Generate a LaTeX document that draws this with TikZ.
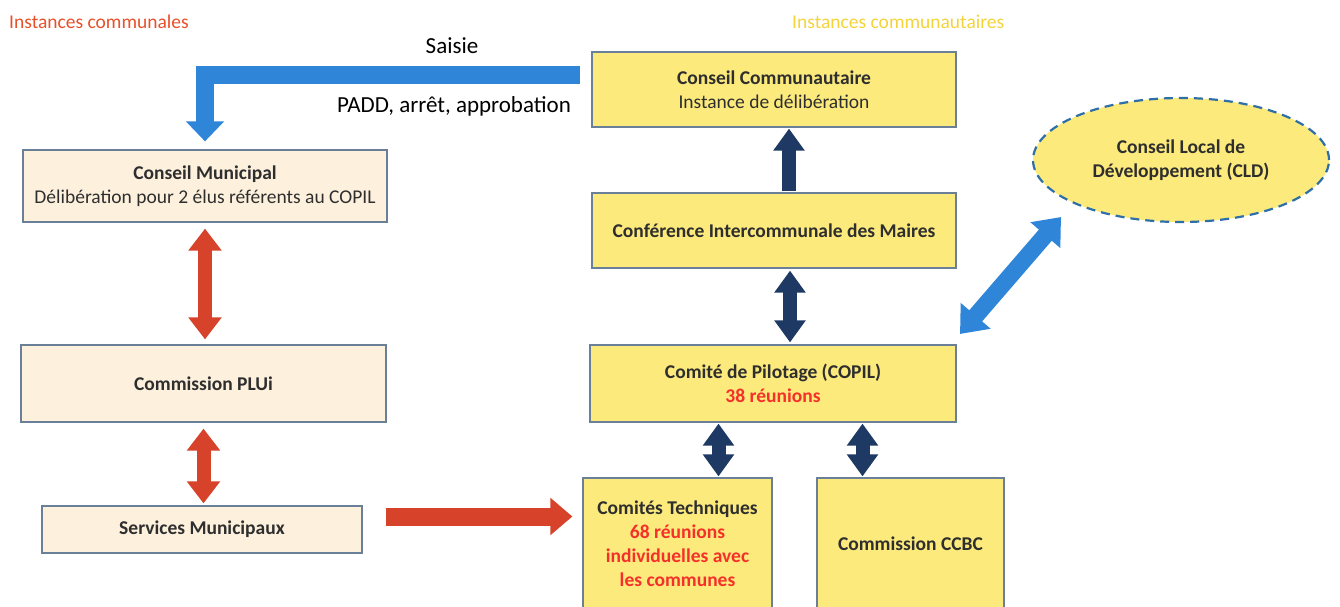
\documentclass[tikz,border=0pt]{standalone}
\usepackage{fontspec}
\setmainfont{Carlito}
\usetikzlibrary{arrows.meta,shapes.geometric}
\definecolor{boxyellow}{HTML}{FCEA7C}
\definecolor{boxpeach}{HTML}{FDF1DE}
\definecolor{boxline}{HTML}{6A8099}
\definecolor{arrowblue}{HTML}{2F86D9}
\definecolor{arrownavy}{HTML}{1E3A64}
\definecolor{arrowred}{HTML}{D7432A}
\definecolor{txtdark}{HTML}{2E2E2E}
\definecolor{txtred}{HTML}{F5302A}
\definecolor{hdrred}{HTML}{E8502A}
\definecolor{hdryellow}{HTML}{F4D43A}
\definecolor{clddash}{HTML}{2F6FA8}
\begin{document}
\begin{tikzpicture}[x=1pt,y=-1pt,
  box/.style={draw=boxline, line width=1.2pt, inner sep=0pt, align=center,
    font=\bfseries\fontsize{19.5}{24}\selectfont, text=txtdark},
  combox/.style={box, fill=boxpeach},
  ccbox/.style={box, fill=boxyellow},
  navyarrow/.style={draw=arrownavy, line width=14pt,
    {Triangle[width=30pt,length=22pt]}-{Triangle[width=30pt,length=22pt]}},
  navyup/.style={draw=arrownavy, line width=14pt, -{Triangle[width=30pt,length=22pt]}},
  redarrow/.style={draw=arrowred, line width=14pt,
    {Triangle[width=32pt,length=22pt]}-{Triangle[width=32pt,length=22pt]}},
  redright/.style={draw=arrowred, line width=18pt, -{Triangle[width=36pt,length=22pt]}},
  bluebent/.style={draw=arrowblue, line width=18pt, line join=miter, -{Triangle[width=37pt,length=20pt]}},
  bluediag/.style={draw=arrowblue, line width=17pt,
    {Triangle[width=38pt,length=24pt]}-{Triangle[width=38pt,length=24pt]}},
  label/.style={inner sep=0pt, text=black, font=\fontsize{23}{26}\selectfont},
  header/.style={anchor=west, inner sep=0pt, font=\fontsize{19.5}{22}\selectfont},
]
\useasboundingbox (0,0) rectangle (1340,607);
\clip (0,0) rectangle (1340,607);
\fill[white] (0,0) rectangle (1340,607);

% headers
\node[header, text=hdrred] (h1) at (9,22) {Instances communales};
\node[header, text=hdryellow] (h2) at (792,22) {Instances communautaires};

% right column (communautaires)
\node[ccbox, minimum width=364, minimum height=75] (cc) at (774,89.5)
  {Conseil Communautaire\\\mdseries Instance de délibération};
\node[ccbox, minimum width=364, minimum height=75] (conf) at (774,230.5)
  {Conférence Intercommunale des Maires};
\node[ccbox, minimum width=366, minimum height=77] (copil) at (773,383.5)
  {Comité de Pilotage (COPIL)\\\textcolor{txtred}{38 réunions}};
\node[ccbox, minimum width=189, minimum height=132] (ct) at (677.5,544)
  {Comités Techniques\\\textcolor{txtred}{68 réunions}\\\textcolor{txtred}{individuelles avec}\\\textcolor{txtred}{les communes}};
\node[ccbox, minimum width=187, minimum height=132] (ccbc) at (910.5,544)
  {Commission CCBC};
\node[ellipse, draw=clddash, dashed, dash pattern=on 9pt off 6pt, line width=2.2pt, fill=boxyellow,
  minimum width=296, minimum height=124, inner sep=0pt, align=center, text=txtdark,
  font=\bfseries\fontsize{19.5}{24}\selectfont] (cld) at (1181,160)
  {Conseil Local de\\Développement (CLD)};

% left column (communales)
\node[combox, minimum width=364, minimum height=72] (cm) at (205,186)
  {Conseil Municipal\\\mdseries Délibération pour 2 élus référents au COPIL};
\node[combox, minimum width=365, minimum height=77] (plui) at (203.5,383.5)
  {Commission PLUi};
\node[combox, minimum width=320, minimum height=47] (serv) at (202,529.5)
  {Services Municipaux};

% labels
\node[label] (saisie) at (452,46) {Saisie};
\node[label] (padd) at (454,106) {PADD, arrêt, approbation};

% connectors
\coordinate (bentstart) at (580,75);
\draw[bluebent, shorten >=8pt] (bentstart) -| (cm.north);

\draw[redarrow, shorten <=6pt, shorten >=5pt] (cm.south) -- (cm.south |- plui.north);
\draw[redarrow, shorten <=6pt, shorten >=2pt] (plui.south) -- (plui.south |- serv.north);
\draw[redright, shorten <=23pt, shorten >=10pt] ([yshift=13]serv.east) -- ([yshift=13]serv.east -| ct.west);

\draw[navyup, shorten <=1pt, shorten >=1pt] ([xshift=15]conf.north) -- ([xshift=15]cc.south);
\draw[navyarrow, shorten <=2pt, shorten >=2pt] ([xshift=16]conf.south) -- ([xshift=16]conf.south |- copil.north);
\draw[navyarrow, shorten <=1pt, shorten >=1pt] ([xshift=41]ct.north |- copil.south) -- ([xshift=41]ct.north);
\draw[navyarrow, shorten <=1pt, shorten >=1pt] ([xshift=-48]ccbc.north |- copil.south) -- ([xshift=-48]ccbc.north);

\coordinate (d1) at (960,334);
\coordinate (d2) at (1061,217);
\draw[bluediag] (d1) -- (d2);
\end{tikzpicture}
\end{document}
